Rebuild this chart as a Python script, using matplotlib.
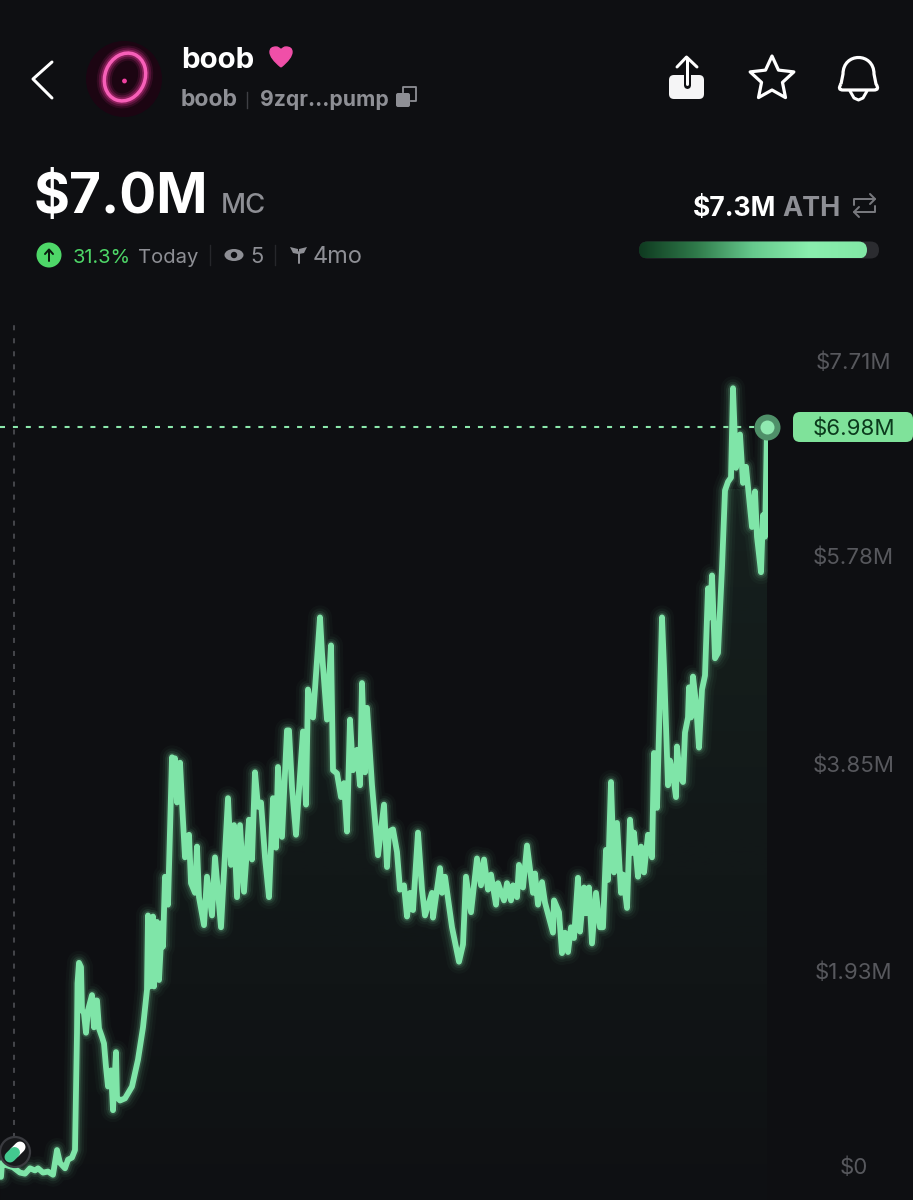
import numpy as np
import matplotlib
matplotlib.use("Agg")
import matplotlib.pyplot as plt
from matplotlib.colors import LinearSegmentedColormap
from matplotlib.patches import Circle, Ellipse, FancyBboxPatch, PathPatch, Polygon
from matplotlib.path import Path
from matplotlib.transforms import ScaledTranslation

# market cap history ($M)
t = [1, 2, 6, 13, 20, 25, 30, 35, 38, 43, 48, 53, 57, 60, 65, 68, 72, 75, 77, 77.5, 79, 81, 82, 84, 86, 88,
     92, 94, 96, 97, 99, 102, 104, 106, 108, 111, 113, 116, 117, 120, 125, 132, 138, 143, 147, 148, 150, 153,
     154, 157, 159, 162, 163, 165, 168, 172, 173, 175, 177, 180, 182, 185, 189, 191, 195, 197, 199, 204, 207,
     212, 215, 221, 228, 231, 234, 237, 240, 244, 249, 252, 255, 258, 261, 265, 269, 273, 276, 278, 282, 287,
     289, 292, 296, 298, 303, 306, 308, 313, 320, 322, 327, 331, 333, 337, 341, 344, 347, 350, 353, 357, 360,
     362, 365, 367, 372, 378, 384, 387, 389, 393, 397, 400, 404, 407, 410, 413, 418, 422, 425, 432, 433, 440,
     442, 445, 452, 459, 463, 466, 471, 477, 481, 484, 488, 491, 496, 498, 504, 507, 511, 513, 517, 519, 523,
     527, 533, 535, 538, 542, 545, 553, 554, 559, 562, 565, 568, 571, 574, 578, 580, 584, 586, 589, 592, 596,
     600, 603, 606, 608, 611, 614, 617, 621, 623, 627, 630, 633, 634, 638, 641, 644, 648, 652, 654, 657, 662,
     664, 668, 670, 673, 676, 677, 680, 683, 685, 688, 689, 691, 693, 696, 699, 702, 705, 708, 710, 712, 715,
     718, 722, 725, 728, 731, 733, 736, 740, 743, 746, 752, 755, 757, 761, 763, 765, 767]
mc_m = [0.01, 0.14, 0.12, 0.10, 0.05, 0.04, 0.09, 0.07, 0.09, 0.05, 0.06, 0.03, 0.26, 0.14, 0.09, 0.17, 0.19, 0.26,
        1.35, 1.81, 2.00, 1.96, 1.56, 1.53, 1.35, 1.56, 1.70, 1.40, 1.65, 1.65, 1.39, 1.31, 1.25, 1.03, 0.85, 1.00,
        0.63, 1.17, 0.75, 0.72, 0.74, 0.85, 1.10, 1.40, 1.75, 2.44, 1.78, 2.43, 1.78, 2.38, 1.84, 2.37, 2.15, 2.80,
        2.54, 3.91, 3.61, 3.90, 3.49, 3.86, 3.49, 2.98, 3.19, 2.74, 2.65, 3.08, 2.61, 2.35, 2.80, 2.44, 2.98, 2.33,
        3.53, 2.91, 3.28, 2.61, 3.28, 2.66, 3.33, 2.96, 3.77, 3.45, 3.49, 2.98, 2.61, 3.53, 3.07, 3.82, 3.17, 4.16,
        4.16, 3.63, 3.19, 3.47, 4.15, 3.47, 4.54, 4.28, 5.21, 4.88, 4.26, 4.95, 3.79, 3.76, 3.54, 3.67, 3.22, 4.26,
        3.79, 3.98, 3.65, 4.60, 3.77, 4.37, 3.65, 3.00, 3.47, 2.89, 3.22, 3.24, 3.03, 2.68, 2.72, 2.43, 2.65, 2.49,
        3.21, 2.68, 2.44, 2.65, 2.42, 2.88, 2.65, 2.80, 2.33, 2.01, 2.17, 2.80, 2.47, 2.97, 2.72, 2.96, 2.68, 2.82,
        2.54, 2.74, 2.58, 2.74, 2.58, 2.72, 2.61, 2.91, 2.70, 3.09, 2.65, 2.83, 2.54, 2.75, 2.56, 2.28, 2.58, 2.47,
        2.09, 2.28, 2.10, 2.33, 2.23, 2.79, 2.29, 2.70, 2.46, 2.70, 2.18, 2.65, 2.33, 2.33, 3.05, 2.77, 3.68, 2.84,
        3.30, 2.65, 2.82, 2.51, 3.33, 3.02, 3.21, 2.80, 3.08, 2.84, 3.19, 2.98, 3.95, 3.44, 5.21, 4.75, 3.65, 3.88,
        3.75, 3.54, 4.01, 3.73, 3.68, 4.14, 4.28, 4.56, 4.28, 4.66, 4.41, 4.00, 4.54, 4.67, 5.48, 5.21, 5.60, 4.83,
        4.88, 5.67, 6.39, 6.47, 6.51, 7.34, 6.60, 6.91, 6.46, 6.61, 6.05, 6.38, 5.96, 5.63, 6.16, 5.96, 6.98]
tick_values = [0, 1.93, 3.85, 5.78, 7.71]
tick_labels = ["$0", "$1.93M", "$3.85M", "$5.78M", "$7.71M"]
current_label = "$6.98M"

BG = "#0e0f12"
LINE = "#7fe5a8"
GRAY = "#8e8f95"
TICK = "#57585d"
W, H = 913, 1200
FONT = "Inter"
SIZE = 0.72  # px to pt at dpi 100

plt.rcParams["font.family"] = [FONT, "DejaVu Sans"]
fig = plt.figure(figsize=(W / 100, H / 100), dpi=100, facecolor=BG)

# chart axes, linear from the $0 level
ax = fig.add_axes([0, 0, 768 / W, 1], facecolor=BG)
ax.set_xlim(0, 768)
ax.set_ylim(-0.2045, 10.948)
for s in ax.spines.values():
    s.set_visible(False)
ax.set_xticks([])
ax.yaxis.tick_right()
ax.set_yticks(tick_values)
ax.set_yticklabels(tick_labels)
ax.tick_params(axis="y", length=0, pad=(853.5 - 768) * SIZE, labelsize=22.3 * SIZE, labelcolor=TICK)
for lab in ax.get_yticklabels():
    lab.set_ha("center")
# the outer labels are pushed inward so they stay in the panel
for lab, shift in [(ax.get_yticklabels()[0], 12), (ax.get_yticklabels()[-1], -12)]:
    lab.set_transform(lab.get_transform() + ScaledTranslation(0, shift / 100, fig.dpi_scale_trans))

# faint fill under the line
grad = np.zeros((256, 1, 4))
grad[..., :3] = matplotlib.colors.to_rgb("#6fe0a0")
grad[:, 0, 3] = np.linspace(0.085, 0.008, 256)
im = ax.imshow(grad, extent=(0, 767, -0.2045, 6.4), origin="upper", aspect="auto", zorder=1)
poly = ax.fill_between(t, mc_m, -0.2045, color="none", zorder=1)
im.set_clip_path(poly.get_paths()[0], transform=ax.transData)

# guide lines
ax.plot([14, 14], [0.37, 7.95], color="#45464b", lw=1.4, dashes=(2.6, 4.1), zorder=2)
ax.axhline(mc_m[-1], xmin=0, xmax=755 / 768, color="#8ce8ac", lw=1.5, dashes=(2.4, 3.8), zorder=2)

# glow then line
for lw, alpha in [(24, 0.03), (18, 0.05), (13, 0.09), (9, 0.16)]:
    ax.plot(t, mc_m, color=LINE, lw=lw * SIZE, alpha=alpha, solid_joinstyle="round", solid_capstyle="round", zorder=3)
ax.plot(t, mc_m, color=LINE, lw=5.8 * SIZE, solid_joinstyle="round", solid_capstyle="round", zorder=4)

# end marker
ax.plot(t[-1], mc_m[-1], "o", ms=26 * SIZE, color="#4f9069", mew=0, clip_on=False, zorder=5)
ax.plot(t[-1], mc_m[-1], "o", ms=14 * SIZE, color="#8fe9b0", mew=0, clip_on=False, zorder=6)

# interface layer, in image pixels
ui = fig.add_axes([0, 0, 1, 1], facecolor="none")
ui.set_xlim(0, W)
ui.set_ylim(H, 0)
ui.axis("off")


def label(x, y, s, px, color, weight="normal", ha="left"):
    ui.text(x, y, s, fontsize=px * SIZE, color=color, fontweight=weight, ha=ha, va="baseline")


def stroke(xs, ys, px, color="white", **kw):
    ui.plot(xs, ys, color=color, lw=px * SIZE, solid_capstyle="round", solid_joinstyle="round", **kw)


# back chevron
stroke([52, 33, 52], [62, 79, 98], 3)

# logo
ui.add_patch(Circle((124, 79), 38, fc="#1c0512", ec="none"))
for r, a in [(15, 0.10), (11, 0.18), (7, 0.3)]:
    ui.add_patch(Ellipse((125, 77), 40, 49, angle=22, fc="none", ec="#ff3fa8", lw=r * SIZE, alpha=a))
ui.add_patch(Ellipse((125, 77), 40, 49, angle=22, fc="none", ec="#f75fb8", lw=3.5 * SIZE))
ui.add_patch(Circle((124.5, 81), 2.4, fc="#f040a0", ec="none"))

# title block
label(181, 68, "boob", 29.5, "white", "bold")
heart = Path([(281, 67), (270, 58), (270, 52), (270, 47), (276, 47), (279, 47), (281, 50),
              (283, 47), (286, 47), (292, 47), (292, 52), (292, 58), (281, 67)],
             [Path.MOVETO, Path.CURVE3, Path.CURVE3, Path.CURVE3, Path.CURVE3, Path.CURVE3, Path.CURVE3,
              Path.CURVE3, Path.CURVE3, Path.CURVE3, Path.CURVE3, Path.CURVE3, Path.CURVE3])
ui.add_patch(PathPatch(heart, fc="#f04fa8", ec="#f04fa8", lw=1))
label(181, 106, "boob", 23, GRAY, "bold")
ui.plot([247, 247], [92, 108], color="#3f4045", lw=1)
label(260, 106, "9zqr...pump", 21.2, GRAY, "bold")
ui.add_patch(FancyBboxPatch((396, 93), 14, 14, boxstyle="round,pad=0,rounding_size=2", fc=GRAY, ec="none"))
ui.plot([403, 403, 416, 416, 411], [92, 87, 87, 101, 101], color=GRAY, lw=1.3)

# action icons
ui.add_patch(FancyBboxPatch((669, 75), 35, 24, boxstyle="round,pad=0,rounding_size=5", fc="#f5f5f6", ec="none"))
stroke([686.5, 686.5], [60, 85], 7, color=BG)
stroke([686.5, 686.5], [58, 84], 3)
stroke([677, 686.5, 697], [67, 57, 67], 3)
ang = np.pi / 2 + np.arange(10) * np.pi / 5
rad = np.where(np.arange(10) % 2 == 0, 23, 11)
star = np.column_stack([772 + rad * np.cos(ang), 79 - rad * np.sin(ang)])
ui.add_patch(Polygon(star, closed=True, fc="none", ec="white", lw=3.2 * SIZE, joinstyle="round"))
bell = Path([(841, 84), (843, 74), (843, 52), (874, 52), (874, 74), (876, 84), (880, 90), (874, 90),
             (843, 90), (837, 90), (841, 84)],
            [Path.MOVETO, Path.LINETO, Path.CURVE4, Path.CURVE4, Path.CURVE4, Path.LINETO, Path.CURVE3, Path.CURVE3,
             Path.LINETO, Path.CURVE3, Path.CURVE3])
ui.add_patch(PathPatch(bell, fc="none", ec="white", lw=3.2 * SIZE, joinstyle="round"))
stroke([850, 854, 858.5, 863, 867], [91, 98, 100, 98, 91], 3)

# market cap
label(34, 213, "$7.0M", 55, "white", "bold")
label(221, 213, "MC", 27.5, GRAY, "medium")

# stats row
ui.add_patch(Circle((49, 255), 12.5, fc="#4ed768", ec="none"))
stroke([49, 49], [261, 250], 2, color="#0a1a0e")
stroke([45, 49, 53], [254, 249.5, 254], 2, color="#0a1a0e")
label(73, 263, "31.3%", 20, "#4ed768")
label(138, 263, "Today", 20.2, GRAY)
ui.plot([210, 210], [245, 265], color="#26272b", lw=1)
ui.add_patch(Ellipse((234, 255), 19, 12, fc=GRAY, ec="none"))
ui.add_patch(Circle((234, 255), 3.2, fc=BG, ec="none"))
label(250, 263, "5", 22, GRAY)
ui.plot([275, 275], [245, 265], color="#26272b", lw=1)
ui.add_patch(Polygon([(290, 247), (298, 249), (298, 254), (293, 253)], fc=GRAY, ec="none"))
ui.add_patch(Polygon([(307, 247), (299, 249), (299, 254), (304, 253)], fc=GRAY, ec="none"))
stroke([298.5, 298.5], [252, 263], 2, color=GRAY)
label(313, 263, "4mo", 23.5, GRAY)

# ATH block
label(693, 216, "$7.3M", 26.5, "white", "bold")
label(782, 216, "ATH", 27, GRAY, "bold")
stroke([854, 854, 875], [205, 199, 199], 2, color="#77787d")
stroke([870, 875, 870], [194, 199, 204], 2, color="#77787d")
stroke([875, 875, 854], [206, 212, 212], 2, color="#77787d")
stroke([859, 854, 859], [207, 212, 217], 2, color="#77787d")

track = FancyBboxPatch((639, 241.5), 240, 17, boxstyle="round,pad=0,rounding_size=8.5", fc="#2b2c30", ec="none")
ui.add_patch(track)
bar = FancyBboxPatch((639, 241.5), 228, 17, boxstyle="round,pad=0,rounding_size=8.5", fc="none", ec="none")
ui.add_patch(bar)
cmap = LinearSegmentedColormap.from_list("ath", ["#0f3a20", "#2f7a4a", "#66c98d", "#8aeeae", "#82e8a6"])
bar_im = ui.imshow(np.linspace(0, 1, 256).reshape(1, -1), extent=(639, 867, 258.5, 241.5), cmap=cmap, aspect="auto", zorder=2)
bar_im.set_clip_path(bar)
ui.set_xlim(0, W)
ui.set_ylim(H, 0)

# pill marker on the launch point
ui.add_patch(Circle((15, 1152), 15, fc="#17181b", ec="#3a3b40", lw=1.6, zorder=6))
ui.plot([15, 20], [1152, 1147], color="white", lw=11 * SIZE, solid_capstyle="round", zorder=7)
ui.plot([10, 14.5], [1157, 1152.5], color="#43c98f", lw=11 * SIZE, solid_capstyle="round", zorder=8)

# current value tag
ui.add_patch(FancyBboxPatch((793, 412), 120, 30, boxstyle="round,pad=0,rounding_size=7", fc="#7fe29a", ec="none", zorder=6))
ui.text(853.5, 435, current_label, fontsize=22.3 * SIZE, color="#0b3a1c", ha="center", va="baseline", zorder=7)

fig.savefig("out.png", dpi=100, facecolor=BG)
